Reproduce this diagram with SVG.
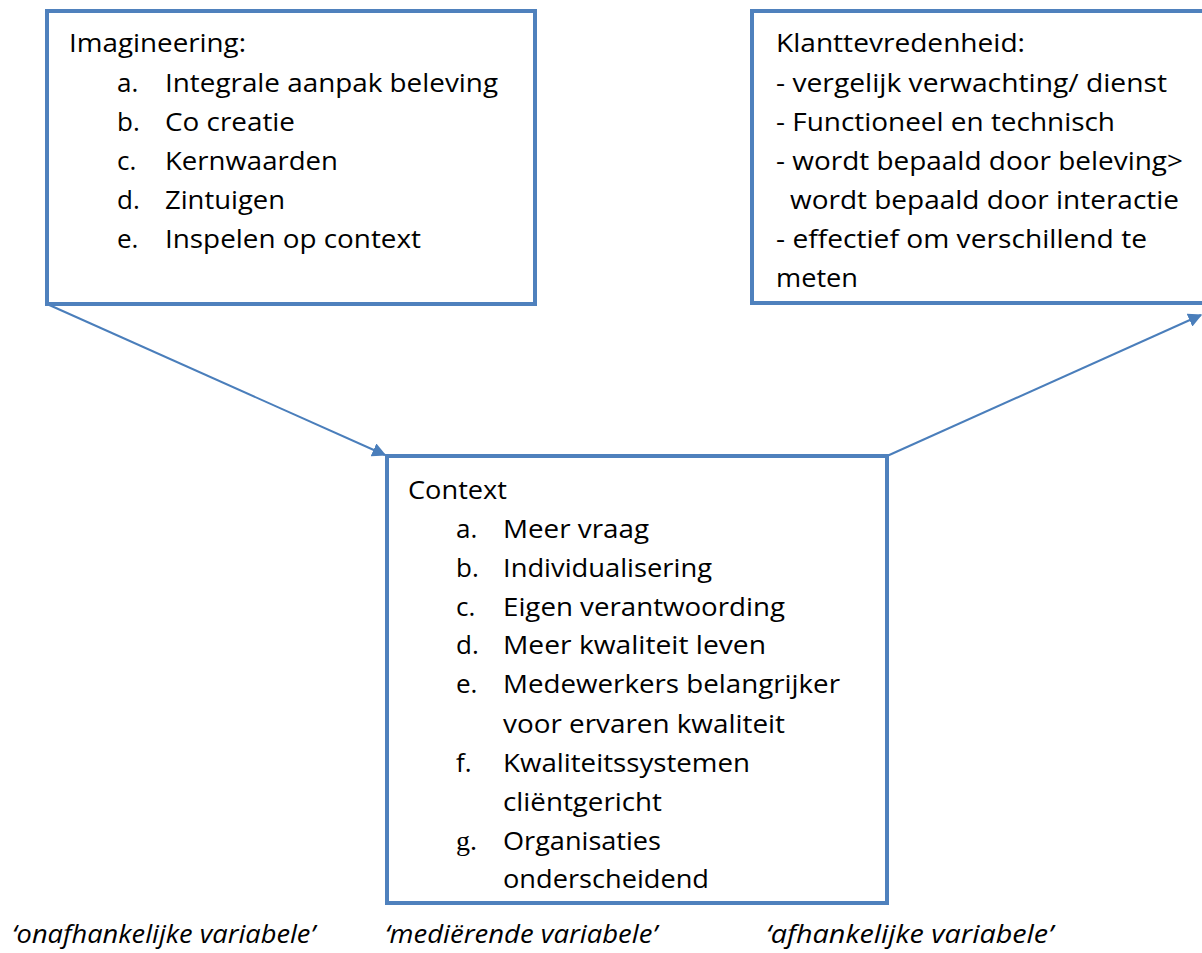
<svg xmlns="http://www.w3.org/2000/svg" width="1202" height="953" viewBox="0 0 1202 953">
<style>
.box{fill:#FFFFFF;stroke:#4F81BD;stroke-width:4}
.t{font-family:"Open Sans","Liberation Sans",sans-serif;font-size:26px;fill:#000000}
.g{font-family:"Liberation Serif","DejaVu Serif",serif;font-size:28px;fill:#000000}
.i{font-family:"Open Sans","Liberation Sans",sans-serif;font-size:25px;font-style:italic;fill:#000000}
.c{stroke:#4A7EBB;stroke-width:2;fill:none}
</style>
<defs>
<marker id="ah" viewBox="0 0 10 10" refX="9" refY="5" markerWidth="7" markerHeight="7" markerUnits="strokeWidth" orient="auto">
<path d="M0,0 L10,5 L0,10 Z" fill="#4A7EBB"/>
</marker>
</defs>
<rect width="1202" height="953" fill="#FFFFFF"/>
<g id="connectors">
<line class="c" x1="47" y1="304" x2="385" y2="455" marker-end="url(#ah)"/>
<line class="c" x1="887" y1="456" x2="1201" y2="315" marker-end="url(#ah)"/>
</g>
<g id="imagineering">
<rect class="box" x="47" y="11" width="488" height="293"/>
<text class="t" x="69" y="52" textLength="177" lengthAdjust="spacingAndGlyphs">Imagineering:</text>
<text class="t" x="117" y="92">a.</text><text class="t" x="165" y="92" textLength="333" lengthAdjust="spacingAndGlyphs">Integrale aanpak beleving</text>
<text class="t" x="117" y="131">b.</text><text class="t" x="165" y="131" textLength="130" lengthAdjust="spacingAndGlyphs">Co creatie</text>
<text class="t" x="117" y="170">c.</text><text class="t" x="165" y="170" textLength="173" lengthAdjust="spacingAndGlyphs">Kernwaarden</text>
<text class="t" x="117" y="209">d.</text><text class="t" x="165" y="209" textLength="120" lengthAdjust="spacingAndGlyphs">Zintuigen</text>
<text class="t" x="117" y="248">e.</text><text class="t" x="165" y="248" textLength="256" lengthAdjust="spacingAndGlyphs">Inspelen op context</text>
</g>
<g id="klanttevredenheid">
<rect class="box" x="752" y="11" width="460" height="292"/>
<text class="t" x="776" y="52" textLength="249" lengthAdjust="spacingAndGlyphs">Klanttevredenheid:</text>
<text class="t" x="776" y="92" textLength="391" lengthAdjust="spacingAndGlyphs">- vergelijk verwachting/ dienst</text>
<text class="t" x="776" y="131" textLength="339" lengthAdjust="spacingAndGlyphs">- Functioneel en technisch</text>
<text class="t" x="776" y="170" textLength="407" lengthAdjust="spacingAndGlyphs">- wordt bepaald door beleving&gt;</text>
<text class="t" x="790" y="209" textLength="389" lengthAdjust="spacingAndGlyphs">wordt bepaald door interactie</text>
<text class="t" x="776" y="248" textLength="371" lengthAdjust="spacingAndGlyphs">- effectief om verschillend te</text>
<text class="t" x="776" y="287" textLength="82" lengthAdjust="spacingAndGlyphs">meten</text>
</g>
<g id="context">
<rect class="box" x="387" y="456" width="500" height="447"/>
<text class="t" x="408" y="499" textLength="99" lengthAdjust="spacingAndGlyphs">Context</text>
<text class="t" x="456" y="538">a.</text><text class="t" x="503" y="538" textLength="146" lengthAdjust="spacingAndGlyphs">Meer vraag</text>
<text class="t" x="456" y="577">b.</text><text class="t" x="503" y="577" textLength="209" lengthAdjust="spacingAndGlyphs">Individualisering</text>
<text class="t" x="456" y="616">c.</text><text class="t" x="503" y="616" textLength="282" lengthAdjust="spacingAndGlyphs">Eigen verantwoording</text>
<text class="t" x="456" y="654">d.</text><text class="t" x="503" y="654" textLength="263" lengthAdjust="spacingAndGlyphs">Meer kwaliteit leven</text>
<text class="t" x="456" y="693">e.</text><text class="t" x="503" y="693" textLength="337" lengthAdjust="spacingAndGlyphs">Medewerkers belangrijker</text>
<text class="t" x="503" y="733" textLength="282" lengthAdjust="spacingAndGlyphs">voor ervaren kwaliteit</text>
<text class="t" x="456" y="772">f.</text><text class="t" x="503" y="772" textLength="247" lengthAdjust="spacingAndGlyphs">Kwaliteitssystemen</text>
<text class="t" x="503" y="811" textLength="159" lengthAdjust="spacingAndGlyphs">cliëntgericht</text>
<text class="g" x="456" y="850">g.</text><text class="t" x="503" y="850" textLength="158" lengthAdjust="spacingAndGlyphs">Organisaties</text>
<text class="t" x="503" y="888" textLength="206" lengthAdjust="spacingAndGlyphs">onderscheidend</text>
</g>
<g id="labels">
<text class="i" x="12" y="943" textLength="303" lengthAdjust="spacingAndGlyphs">‘onafhankelijke variabele’</text>
<text class="i" x="385" y="943" textLength="272" lengthAdjust="spacingAndGlyphs">‘mediërende variabele’</text>
<text class="i" x="766" y="943" textLength="287" lengthAdjust="spacingAndGlyphs">‘afhankelijke variabele’</text>
</g>
</svg>
